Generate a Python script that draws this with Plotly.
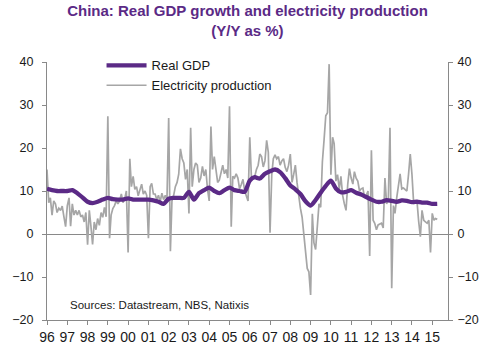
import plotly.graph_objects as go
import pandas as pd

# ---------------- data ----------------
years = list(range(1996, 2016))
year_labels = [f"{y % 100:02d}" for y in years]

# Electricity production, Y/Y %, monthly (Jan 1996 - Apr 2015)
elec_1996 = [15.0, 7.3, 8.4, 4.4, 7.7, 7.0, 5.0, 6.0, 5.5, 6.5, 4.0, 1.7]
elec_1997 = [6.6, 8.4, 1.8, 7.0, 4.4, 5.5, 4.4, 5.5, 4.0, 4.4, 2.8, 5.0]
elec_1998 = [-2.5, 5.5, 2.0, -2.4, 2.8, 1.0, 3.6, 2.0, 5.0, 3.9, 6.2, 4.0]
elec_1999 = [27.4, -1.0, 4.4, 5.9, 6.6, 7.7, 7.0, 7.7, 9.3, 7.3, 8.2, 10.0]
elec_2000 = [-4.3, 17.5, 11.0, 13.4, 10.4, 11.0, 8.9, 10.0, 11.6, 9.3, 10.0, 9.0]
elec_2001 = [-1.0, 11.0, 11.8, 9.3, 9.3, 8.0, 9.0, 7.5, 9.5, 8.0, 9.0, 8.0]
elec_2002 = [27.0, -4.0, 7.7, 9.0, 11.0, 12.0, 13.9, 19.8, 17.5, 16.5, 12.7, 15.0]
elec_2003 = [4.8, 24.7, 11.0, 15.0, 16.5, 16.0, 12.0, 13.0, 15.7, 13.5, 15.0, 10.5]
elec_2004 = [7.7, 25.0, 15.0, 18.0, 15.0, 12.0, 12.5, 14.0, 16.0, 14.0, 15.0, 13.0]
elec_2005 = [29.7, 1.7, 13.4, 13.0, 14.0, 13.0, 10.5, 11.5, 12.7, 10.0, 9.0, 7.7]
elec_2006 = [22.5, 12.7, 13.0, 13.4, 15.0, 16.0, 18.6, 18.0, 15.6, 17.0, 21.8, 19.0]
elec_2007 = [0.3, 13.8, 17.5, 18.4, 17.5, 18.0, 16.0, 17.0, 17.5, 15.5, 14.5, 16.0]
elec_2008 = [18.6, 12.0, 13.8, 16.0, 12.0, 8.4, 6.0, 3.9, -0.5, -3.6, -8.0, -8.8]
elec_2009 = [-14.2, 4.7, -2.0, -3.6, 1.6, 7.0, 6.2, 16.8, 22.0, 27.5, 28.2, 39.5]
elec_2010 = [13.8, 22.5, 21.0, 12.3, 13.8, 10.5, 13.4, 9.0, 7.0, 5.5, 11.6, 15.2]
elec_2011 = [13.0, 11.6, 14.5, 13.0, 12.3, 10.0, 10.5, 10.7, 8.4, 9.0, 10.0, -5.1]
elec_2012 = [19.5, 3.2, 2.5, 1.0, 2.1, 2.3, 2.5, 1.4, 13.0, 7.0, 8.0, 24.7]
elec_2013 = [-12.6, 6.6, 4.8, 8.4, 11.0, 14.0, 10.5, 10.7, 10.3, 10.0, 14.0, 18.6]
elec_2014 = [13.8, 7.0, 7.3, 7.7, 3.0, -0.6, 5.5, 3.2, 2.8, 2.5, 3.2, -4.3]
elec_2015 = [4.8, 3.2, 3.6, 3.4]

electricity = (elec_1996 + elec_1997 + elec_1998 + elec_1999 + elec_2000 + elec_2001
               + elec_2002 + elec_2003 + elec_2004 + elec_2005 + elec_2006 + elec_2007
               + elec_2008 + elec_2009 + elec_2010 + elec_2011 + elec_2012 + elec_2013
               + elec_2014 + elec_2015)
elec_dates = pd.date_range("1996-01-01", periods=len(electricity), freq="MS")

# Real GDP, Y/Y %, quarterly (1996 Q1 - 2015 Q2)
gdp = [10.5, 10.2, 10.0, 10.0,
       10.0, 10.2, 9.5, 8.5,
       7.5, 7.2, 7.5, 8.0,
       8.4, 8.1, 8.0, 8.0,
       8.3, 8.0, 8.0, 8.0,
       8.0, 7.8, 7.5, 7.0,
       8.2, 8.4, 8.4, 8.4,
       9.8, 8.0, 9.5, 10.2,
       10.8, 10.0, 9.5, 10.2,
       10.8, 10.2, 10.0, 9.8,
       12.4, 13.2, 12.9, 14.0,
       14.6, 15.0, 14.4, 13.0,
       11.3, 10.4, 9.3, 7.6,
       6.6, 7.9, 9.6, 11.2,
       12.4, 10.6, 9.7, 9.8,
       10.2, 9.6, 9.2, 8.6,
       8.0, 7.5, 7.5, 7.9,
       7.7, 7.5, 7.8, 7.7,
       7.4, 7.5, 7.3, 7.3,
       7.0, 7.0]
gdp_dates = pd.date_range("1996-01-01", periods=len(gdp), freq="QS")

# ---------------- styling ----------------
PURPLE = "#5B2A86"
GREY = "#A6A6A6"
AXIS = "#898989"
FONT = "Liberation Sans, Arial, sans-serif"

fig = go.Figure()
fig.add_trace(go.Scatter(x=elec_dates, y=electricity, mode="lines",
                         name="Electricity production",
                         line=dict(color=GREY, width=1.7)))
fig.add_trace(go.Scatter(x=gdp_dates, y=gdp, mode="lines", name="Real GDP",
                         line=dict(color=PURPLE, width=4.3, shape="spline", smoothing=0.7)))
fig.add_trace(go.Scatter(x=gdp_dates[:1], y=gdp[:1], yaxis="y2", mode="lines",
                         showlegend=False, hoverinfo="skip",
                         line=dict(color="rgba(0,0,0,0)")))

axis_common = dict(range=[-20, 40], dtick=10, showgrid=False, showline=True,
                   linecolor=AXIS, linewidth=1, ticks="outside", ticklen=4,
                   tickcolor=AXIS, tickfont=dict(family=FONT, size=12.5, color="#1a1a1a"))

fig.update_layout(
    width=500, height=357,
    margin=dict(l=44, r=52, t=62, b=30),
    paper_bgcolor="white", plot_bgcolor="white",
    font=dict(family=FONT, color="#1a1a1a"),
    title=dict(text="China: Real GDP growth and electricity production<br>(Y/Y as %)",
               x=0.5, xref="paper", xanchor="center",
               y=0.955, yref="container", yanchor="top",
               font=dict(family=FONT, size=15, color=PURPLE, weight="bold")),
    xaxis=dict(type="date", range=["1996-01-01", "2015-10-12"],
               tickvals=[f"{y}-01-01" for y in years], ticktext=year_labels,
               showgrid=False, showline=True, linecolor=AXIS, ticks="outside",
               ticklen=4, tickcolor=AXIS, zeroline=False,
               tickfont=dict(family=FONT, size=14, color="#1a1a1a")),
    yaxis=dict(**axis_common, zeroline=True, zerolinecolor=AXIS, zerolinewidth=1,
               ticklabelstandoff=6),
    yaxis2=dict(**axis_common, overlaying="y", side="right", zeroline=False,
                ticklabelstandoff=2),
    legend=dict(x=0.136, y=1.045, xanchor="left", yanchor="top",
                bgcolor="rgba(0,0,0,0)", traceorder="reversed", itemwidth=40,
                font=dict(family=FONT, size=13, color="#1a1a1a"),
                tracegroupgap=0),
    annotations=[dict(text="Sources: Datastream, NBS, Natixis", xref="paper", yref="paper",
                      x=0.052, y=0.058, xanchor="left", yanchor="middle", showarrow=False,
                      font=dict(family=FONT, size=11.5, color="#1a1a1a"))],
    showlegend=True,
)

fig.write_html("out.html", config={"displayModeBar": False},
               post_script="document.body.style.margin='0';document.body.style.padding='0';")
